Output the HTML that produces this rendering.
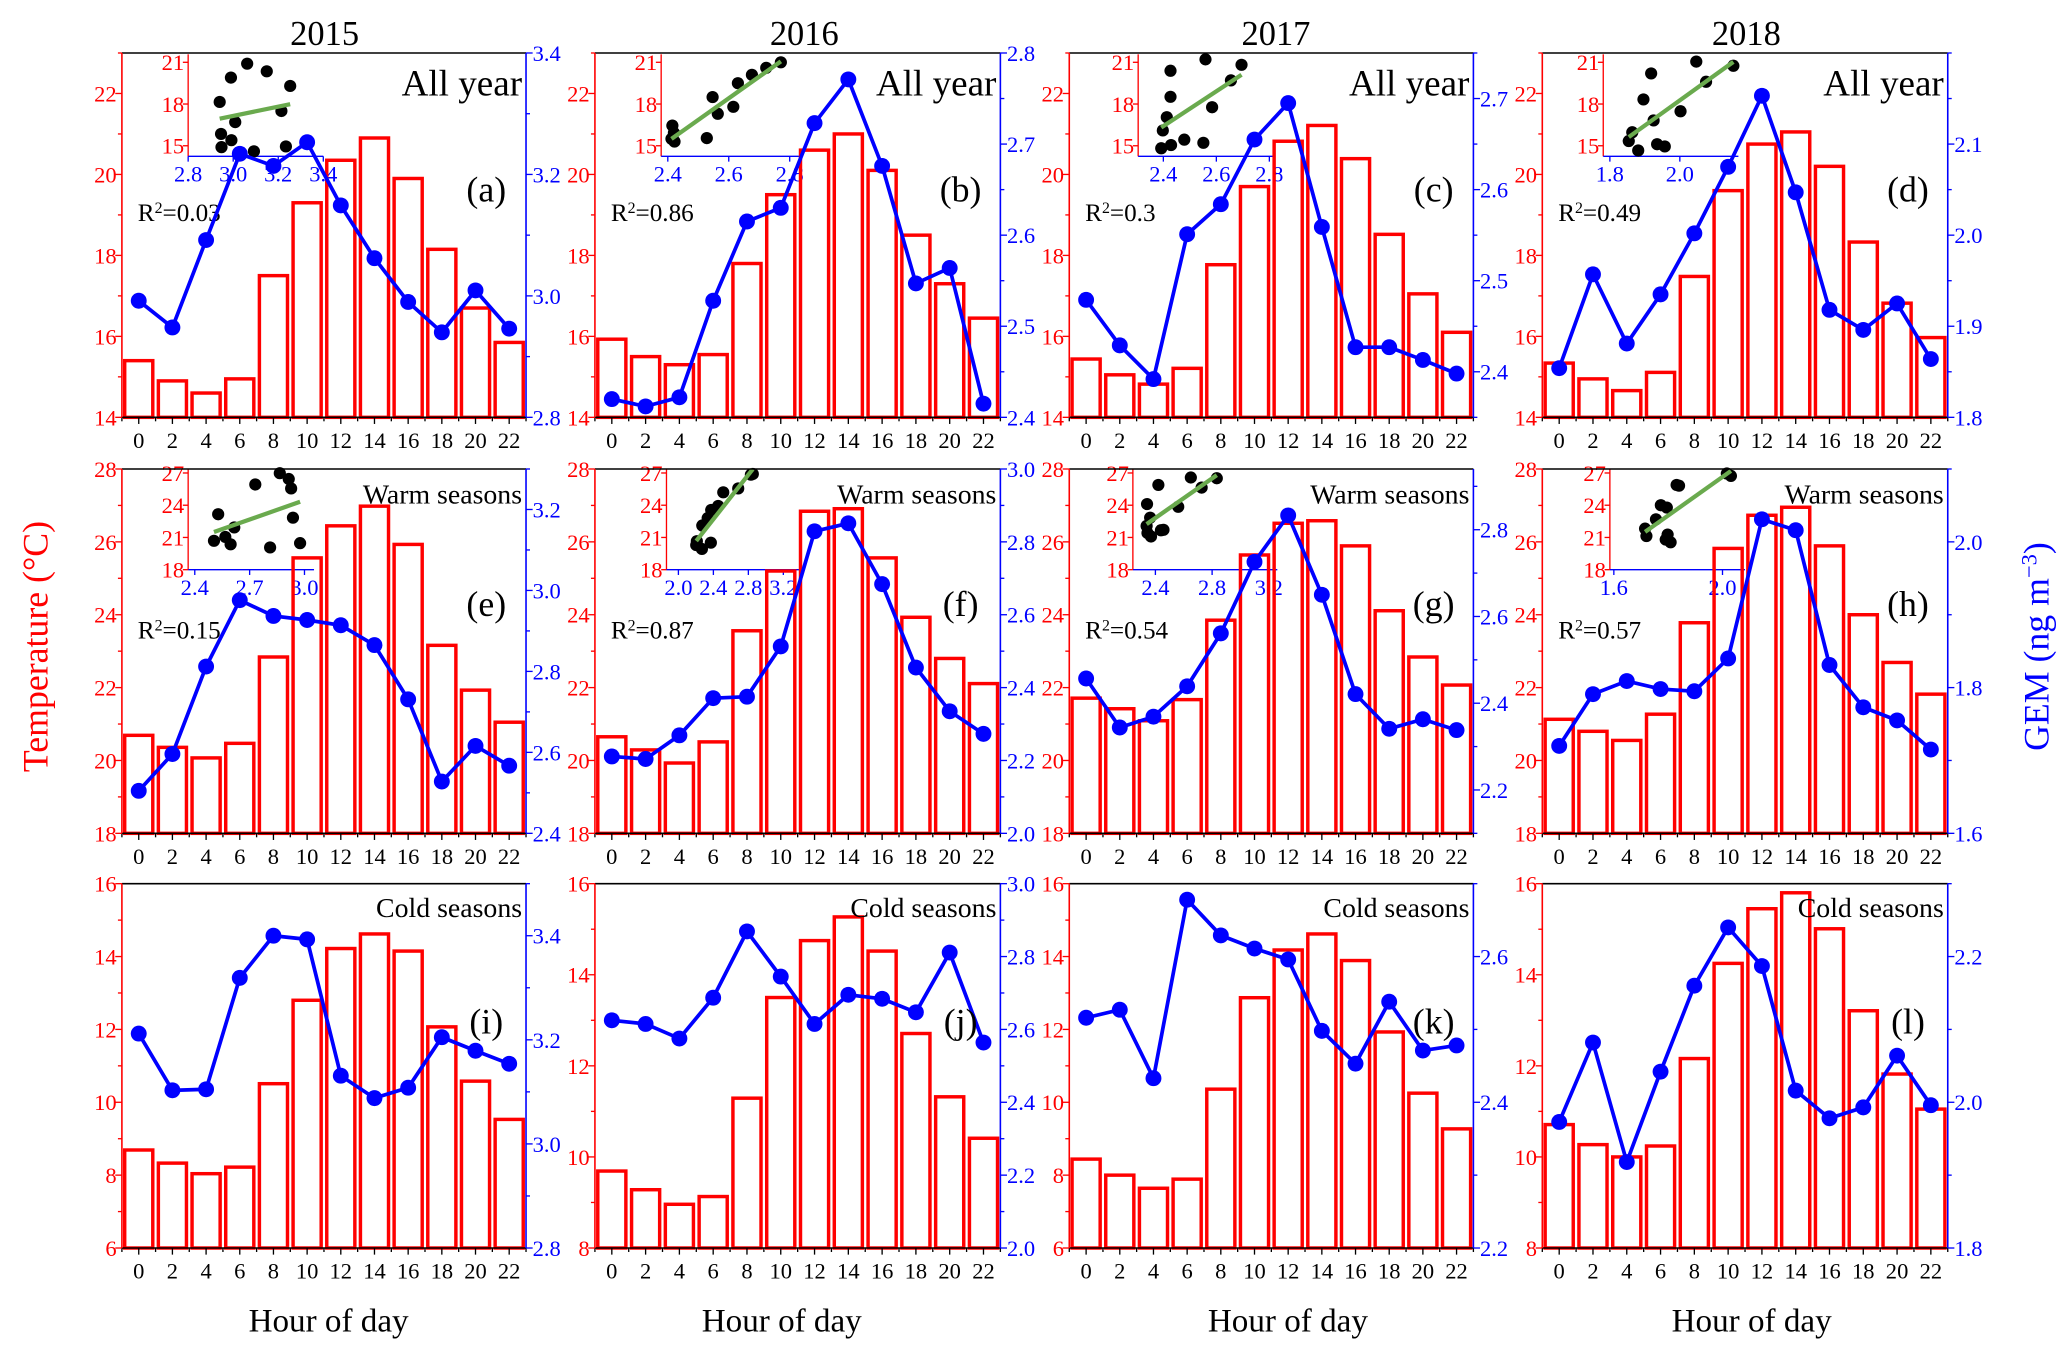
<!DOCTYPE html>
<html><head><meta charset="utf-8"><title>Diurnal temperature and GEM</title>
<style>
html,body{margin:0;padding:0;background:#fff;}
svg{display:block;}
text{font-family:"Liberation Serif","DejaVu Serif",serif;}
</style></head>
<body>
<svg id="chart" xmlns="http://www.w3.org/2000/svg" width="2067" height="1354" viewBox="0 0 1560 1022" preserveAspectRatio="none">
<rect x="0" y="0" width="1560" height="1022" fill="#fff"/>
<g id="panels"></g>
<text x="245" y="34" text-anchor="middle" font-size="26">2015</text>
<text x="607" y="34" text-anchor="middle" font-size="26">2016</text>
<text x="963" y="34" text-anchor="middle" font-size="26">2017</text>
<text x="1318" y="34" text-anchor="middle" font-size="26">2018</text>
<text x="248" y="1005" text-anchor="middle" font-size="25">Hour of day</text>
<text x="590" y="1005" text-anchor="middle" font-size="25">Hour of day</text>
<text x="972" y="1005" text-anchor="middle" font-size="25">Hour of day</text>
<text x="1322" y="1005" text-anchor="middle" font-size="25">Hour of day</text>
<text transform="translate(36,488) rotate(-90)" text-anchor="middle" font-size="27" fill="#ff0000">Temperature (°C)</text>
<text transform="translate(1546,488) rotate(-90)" text-anchor="middle" font-size="27" fill="#0000ff">GEM (ng m<tspan baseline-shift="super" font-size="17">−3</tspan>)</text>
</svg>
<script>
const hours=[0,2,4,6,8,10,12,14,16,18,20,22];
const tempA=[15.4,14.9,14.6,14.95,17.5,19.3,20.35,20.9,19.9,18.15,16.7,15.85];
const gemA=[2.992,2.948,3.092,3.234,3.214,3.253,3.149,3.062,2.990,2.940,3.009,2.946];
const tempB=[15.93,15.5,15.3,15.55,17.8,19.5,20.6,21.0,20.1,18.5,17.3,16.45];
const gemB=[2.420,2.412,2.422,2.528,2.615,2.630,2.723,2.771,2.676,2.547,2.564,2.415];
const tempC=[15.44,15.05,14.82,15.21,17.77,19.70,20.82,21.21,20.39,18.52,17.05,16.10];
const gemC=[2.479,2.429,2.392,2.551,2.584,2.655,2.695,2.559,2.427,2.427,2.413,2.398];
const tempD=[15.34,14.95,14.66,15.11,17.48,19.6,20.75,21.05,20.2,18.33,16.82,15.97];
const gemD=[1.854,1.957,1.881,1.935,2.002,2.075,2.153,2.047,1.918,1.896,1.925,1.864];
const tempE=[20.69,20.36,20.07,20.47,22.84,25.56,26.44,26.98,25.93,23.16,21.93,21.05];
const gemE=[2.505,2.596,2.812,2.976,2.937,2.927,2.914,2.865,2.731,2.528,2.616,2.567];
const tempF=[20.65,20.29,19.93,20.51,23.56,25.2,26.84,26.91,25.56,23.93,22.8,22.11];
const gemF=[2.211,2.204,2.269,2.371,2.375,2.513,2.829,2.851,2.684,2.455,2.335,2.273];
const tempG=[21.71,21.42,21.09,21.67,23.85,25.64,26.51,26.58,25.89,24.11,22.84,22.07];
const gemG=[2.457,2.344,2.369,2.439,2.561,2.726,2.833,2.650,2.421,2.341,2.363,2.338];
const tempH=[21.13,20.8,20.55,21.27,23.78,25.82,26.73,26.95,25.89,24.0,22.69,21.82];
const gemH=[1.72,1.791,1.809,1.798,1.795,1.84,2.031,2.016,1.831,1.773,1.755,1.715];
const tempI=[8.69,8.33,8.04,8.22,10.51,12.8,14.22,14.62,14.15,12.07,10.58,9.53];
const gemI=[3.212,3.103,3.105,3.319,3.400,3.393,3.131,3.088,3.108,3.205,3.179,3.154];
const tempJ=[9.69,9.28,8.96,9.13,11.29,13.5,14.75,15.27,14.52,12.71,11.32,10.41];
const gemJ=[2.625,2.615,2.575,2.687,2.869,2.745,2.615,2.695,2.684,2.647,2.811,2.564];
const tempK=[8.44,8.0,7.64,7.89,10.36,12.87,14.18,14.62,13.89,11.93,10.25,9.27];
const gemK=[2.516,2.527,2.433,2.678,2.629,2.611,2.596,2.498,2.453,2.538,2.471,2.478];
const tempL=[10.71,10.27,10.0,10.24,12.16,14.25,15.45,15.8,15.01,13.21,11.82,11.05];
const gemL=[1.973,2.082,1.918,2.042,2.16,2.24,2.187,2.016,1.978,1.993,2.064,1.996];
const r2Labels=["0.03","0.86","0.3","0.49","0.15","0.87","0.54","0.57"];
const seasonLabels=["All year","Warm seasons","Cold seasons"];

const NS="http://www.w3.org/2000/svg";
const root=document.getElementById('panels');
function mk(tag,attrs,parent){const e=document.createElementNS(NS,tag);for(const k in attrs)e.setAttribute(k,attrs[k]);(parent||root).appendChild(e);return e;}
function fmt(v,d){return v.toFixed(d);}

const colX=[[92,397],[449,755],[807,1112],[1164,1470]];
const rowY=[[40,315],[354,629],[667,942]];
const panels=[
 {id:'a',c:0,r:0,t:tempA,g:gemA,tr:[14,23],tl:[14,16,18,20,22],gr:[2.8,3.4],gl:[2.8,3.0,3.2,3.4],gs:0.1,gd:1,ins:{x0:142,ref:2.8,sc:170,end:244,lab:[2.8,3.0,3.2,3.4],ld:1}},
 {id:'b',c:1,r:0,t:tempB,g:gemB,tr:[14,23],tl:[14,16,18,20,22],gr:[2.4,2.8],gl:[2.4,2.5,2.6,2.7,2.8],gs:0.05,gd:1,ins:{x0:499,ref:2.4,sc:230,end:603,lab:[2.4,2.6,2.8],ld:1}},
 {id:'c',c:2,r:0,t:tempC,g:gemC,tr:[14,23],tl:[14,16,18,20,22],gr:[2.35,2.75],gl:[2.4,2.5,2.6,2.7],gs:0.05,gd:1,ins:{x0:859,ref:2.4,sc:200,end:961,lab:[2.4,2.6,2.8],ld:1}},
 {id:'d',c:3,r:0,t:tempD,g:gemD,tr:[14,23],tl:[14,16,18,20,22],gr:[1.8,2.2],gl:[1.8,1.9,2.0,2.1],gs:0.05,gd:1,ins:{x0:1210,ref:1.8,sc:264,end:1312,lab:[1.8,2.0],ld:1}},
 {id:'e',c:0,r:1,t:tempE,g:gemE,tr:[18,28],tl:[18,20,22,24,26,28],gr:[2.4,3.3],gl:[2.4,2.6,2.8,3.0,3.2],gs:0.1,gd:1,ins:{x0:142,ref:2.4,sc:138,end:237,lab:[2.4,2.7,3.0],ld:1}},
 {id:'f',c:1,r:1,t:tempF,g:gemF,tr:[18,28],tl:[18,20,22,24,26,28],gr:[2.0,3.0],gl:[2.0,2.2,2.4,2.6,2.8,3.0],gs:0.1,gd:1,ins:{x0:503,ref:2.0,sc:66,end:603,lab:[2.0,2.4,2.8,3.2],ld:1}},
 {id:'g',c:2,r:1,t:tempG,g:gemG,tr:[18,28],tl:[18,20,22,24,26,28],gr:[2.1,2.94],gl:[2.2,2.4,2.6,2.8],gs:0.1,gd:1,ins:{x0:855,ref:2.4,sc:107,end:964,lab:[2.4,2.8,3.2],ld:1}},
 {id:'h',c:3,r:1,t:tempH,g:gemH,tr:[18,28],tl:[18,20,22,24,26,28],gr:[1.6,2.1],gl:[1.6,1.8,2.0],gs:0.1,gd:1,ins:{x0:1215,ref:1.6,sc:205,end:1317,lab:[1.6,2.0],ld:1}},
 {id:'i',c:0,r:2,t:tempI,g:gemI,tr:[6,16],tl:[6,8,10,12,14,16],gr:[2.8,3.5],gl:[2.8,3.0,3.2,3.4],gs:0.1,gd:1},
 {id:'j',c:1,r:2,t:tempJ,g:gemJ,tr:[8,16],tl:[8,10,12,14,16],gr:[2.0,3.0],gl:[2.0,2.2,2.4,2.6,2.8,3.0],gs:0.1,gd:1},
 {id:'k',c:2,r:2,t:tempK,g:gemK,tr:[6,16],tl:[6,8,10,12,14,16],gr:[2.2,2.7],gl:[2.2,2.4,2.6],gs:0.1,gd:1},
 {id:'l',c:3,r:2,t:tempL,g:gemL,tr:[8,16],tl:[8,10,12,14,16],gr:[1.8,2.3],gl:[1.8,2.0,2.2],gs:0.1,gd:1}
];
const insetY=[{top:41,bot:118,ref:14.24,sc:10.5,lab:[15,18,21]},{top:354,bot:430,ref:18,sc:8.11,lab:[18,21,24,27]}];

panels.forEach((p,pi)=>{
 const [x0,x1]=colX[p.c],[y0,y1]=rowY[p.r];
 const g=mk('g',{});
 
 
 const slot=(x1-x0)/12;
 const xs=i=>x0+(i+0.5)*slot;
 const yT=v=>y1-(v-p.tr[0])/(p.tr[1]-p.tr[0])*(y1-y0);
 const yG=v=>y1-(v-p.gr[0])/(p.gr[1]-p.gr[0])*(y1-y0);

 // inset scatter
 if(p.ins){
  const iy=insetY[p.r];const ins=p.ins;
  const ig=mk('g',{},g);
  
  
  const xI=v=>ins.x0+(v-ins.ref)*ins.sc+(ins.ref===undefined?0:0);
  const xIn=v=>ins.x0+(ins.ref===ins.ref?0:0)+(v-ins.ref)*ins.sc+ (xOff(ins));
  function xOff(s){return 0;}
  const yI=v=>iy.bot-(v-iy.ref)*iy.sc;
  // label positions: reference value sits slightly right of axis start
  const refPx={a:142,b:504,c:878,d:1215,e:147,f:512,g:872,h:1218}[p.id];
  const X=v=>refPx+(v-ins.ref)*ins.sc;
  const ax=mk('line',{x1:ins.x0,y1:iy.top,x2:ins.x0,y2:iy.bot,stroke:'#ff0000','stroke-width':1},ig);
  
  
  const bx=mk('line',{x1:ins.x0,y1:iy.bot,x2:ins.end,y2:iy.bot,stroke:'#0000ff','stroke-width':1},ig);
  
  
  iy.lab.forEach(v=>{
   mk('line',{x1:ins.x0-4,y1:yI(v),x2:ins.x0,y2:yI(v),stroke:'#ff0000','stroke-width':1},ig);
   const t=mk('text',{x:ins.x0-3,y:yI(v)+6,'text-anchor':'end','font-size':17,fill:'#ff0000'},ig);
   t.textContent=v;
   
   
  });
  ins.lab.forEach(v=>{
   mk('line',{x1:X(v),y1:iy.bot,x2:X(v),y2:iy.bot+4,stroke:'#0000ff','stroke-width':1},ig);
   const t=mk('text',{x:X(v),y:iy.bot+19,'text-anchor':'middle','font-size':17,fill:'#0000ff'},ig);
   t.textContent=fmt(v,ins.ld);
   
   
  });
  // regression
  const n=p.g.length;let mx=0,my=0;p.g.forEach((v,i)=>{mx+=v;my+=p.t[i];});mx/=n;my/=n;
  let sxy=0,sxx=0;p.g.forEach((v,i)=>{sxy+=(v-mx)*(p.t[i]-my);sxx+=(v-mx)*(v-mx);});
  const b=sxy/sxx,a=my-b*mx;
  const gmin=Math.min(...p.g),gmax=Math.max(...p.g);
  p.g.forEach((v,i)=>{
   const c=mk('circle',{cx:X(v),cy:yI(p.t[i]),r:4.6,fill:'#000'},ig);
   
   
  });
  const rl=mk('line',{x1:X(gmin),y1:yI(a+b*gmin),x2:X(gmax),y2:yI(a+b*gmax),stroke:'#6aaa4e','stroke-width':3.2},ig);
  
  
  const rt=mk('text',{x:x0+12,y:p.r===0?167:482,'font-size':19},g);
  
  
  rt.innerHTML='R<tspan baseline-shift="super" font-size="12">2</tspan>='+r2Labels[pi];
 }

 // bars
 p.t.forEach((v,i)=>{
  const yy=yT(v);
  const r=mk('rect',{x:xs(i)-10.6,y:yy,width:21.2,height:y1-yy,fill:'#fff','fill-opacity':0.0,stroke:'#ff0000','stroke-width':2.6},g);
  
  
 });
 // GEM line
 const pts=p.g.map((v,i)=>xs(i)+','+yG(v)).join(' ');
 const pl=mk('polyline',{points:pts,fill:'none',stroke:'#0000ff','stroke-width':2.8},g);
 
 
 p.g.forEach((v,i)=>{
  const c=mk('circle',{cx:xs(i),cy:yG(v),r:6,fill:'#0000ff'},g);
  
  
 });

 // frame axes
 const tl=mk('line',{x1:x0,y1:y0,x2:x1,y2:y0,stroke:'#000','stroke-width':1.2},g);
 
 
 const bl=mk('line',{x1:x0,y1:y1,x2:x1,y2:y1,stroke:'#000','stroke-width':1.2},g);
 
 
 const ll=mk('line',{x1:x0,y1:y0,x2:x0,y2:y1,stroke:'#ff0000','stroke-width':1.2},g);
 
 
 const rr=mk('line',{x1:x1,y1:y0,x2:x1,y2:y1,stroke:'#0000ff','stroke-width':1.2},g);
 
 

 // x ticks
 for(let i=0;i<=12;i++){const xx=x0+i*slot;mk('line',{x1:xx,y1:y1,x2:xx,y2:y1+3,stroke:'#000','stroke-width':1},g);}
 hours.forEach((h,i)=>{
  mk('line',{x1:xs(i),y1:y1,x2:xs(i),y2:y1+5,stroke:'#000','stroke-width':1},g);
  const t=mk('text',{x:xs(i),y:y1+23,'text-anchor':'middle','font-size':17},g);
  t.textContent=h;
  
  
 });
 // left ticks
 for(let v=p.tr[0];v<=p.tr[1]+1e-9;v+=1){
  const major=p.tl.indexOf(v)>=0;
  mk('line',{x1:x0-(major?5:3),y1:yT(v),x2:x0,y2:yT(v),stroke:'#ff0000','stroke-width':1},g);
 }
 p.tl.forEach(v=>{
  const t=mk('text',{x:x0-4,y:yT(v)+6,'text-anchor':'end','font-size':17,fill:'#ff0000'},g);
  t.textContent=v;
  
  
 });
 // right ticks
 const st=p.gs;
 for(let k=Math.ceil(p.gr[0]/st-1e-6);k*st<=p.gr[1]+1e-6;k++){
  const v=k*st;
  const major=p.gl.some(u=>Math.abs(u-v)<1e-6);
  mk('line',{x1:x1,y1:yG(v),x2:x1+(major?5:3),y2:yG(v),stroke:'#0000ff','stroke-width':1},g);
 }
 p.gl.forEach(v=>{
  const t=mk('text',{x:x1+5,y:yG(v)+6,'font-size':17,fill:'#0000ff'},g);
  t.textContent=fmt(v,p.gd);
  
  
 });
 // labels
 const pl2=mk('text',{x:x1-30,y:p.r===0?152:(p.r===1?465:780),'text-anchor':'middle','font-size':27},g);
 pl2.textContent='('+p.id+')';
 
 
 const s=mk('text',{x:x1-3,y:p.r===0?72:(p.r===1?380:692),'text-anchor':'end','font-size':p.r===0?28:21},g);
 s.textContent=seasonLabels[p.r];
 
 
});
</script>
</body></html>
